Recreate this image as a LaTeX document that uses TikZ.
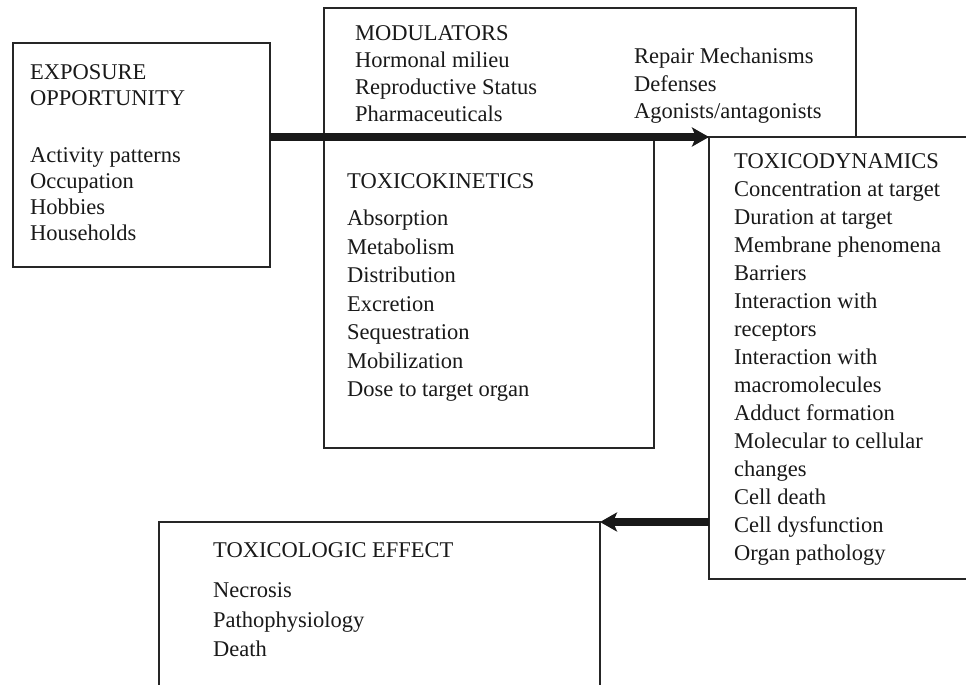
\documentclass[tikz,border=0pt]{standalone}
\usepackage{fontspec}
\setmainfont{Liberation Serif}
\usepackage{tikz}
\usetikzlibrary{arrows.meta}

\begin{document}
\begin{tikzpicture}[x=1pt,y=-1pt,
  >={Stealth[length=17pt,width=19pt,inset=4pt]},
  box/.style={draw=black!85,line width=1.6pt,rectangle,anchor=north west,inner sep=0pt,outer sep=0pt},
  txt/.style={anchor=north west,align=left,inner sep=0pt,text=black!90,font=\fontsize{22.5}{26}\selectfont},
  flow/.style={->,line width=8.5pt,draw=black!90}]
  \useasboundingbox (0,0) rectangle (966,685);
  \clip (0,0) rectangle (966,685);

  % boxes
  \node [box,minimum width=257pt,minimum height=224pt] (expo) at (13,43) {};
  \node [box,minimum width=532pt,minimum height=129pt] (mod) at (324,8) {};
  \node [box,minimum width=330pt,minimum height=311pt] (kin) at (324,137) {};
  \node [box,minimum width=290pt,minimum height=442pt] (dyn) at (709,137) {};
  \node [box,minimum width=441pt,minimum height=200pt] (eff) at (159,522) {};

  % texts
  \node [txt] (expo-t) at (30,64.5)
    {EXPOSURE\\OPPORTUNITY\\[31pt]Activity patterns\\Occupation\\Hobbies\\Households};
  \node [txt,font=\fontsize{22.5}{27}\selectfont] (mod-l) at (355,25.5)
    {MODULATORS\\Hormonal milieu\\Reproductive Status\\Pharmaceuticals};
  \node [txt,font=\fontsize{22.5}{27.5}\selectfont] (mod-r) at (634,48)
    {Repair Mechanisms\\Defenses\\Agonists/antagonists};
  \node [txt,font=\fontsize{22.5}{28.5}\selectfont] (kin-t) at (347,173.5)
    {TOXICOKINETICS\\[8.5pt]Absorption\\Metabolism\\Distribution\\Excretion\\Sequestration\\Mobilization\\Dose to target organ};
  \node [txt,font=\fontsize{22.5}{28}\selectfont] (dyn-t) at (734,153.5)
    {TOXICODYNAMICS\\Concentration at target\\Duration at target\\Membrane phenomena\\Barriers\\Interaction with\\receptors\\Interaction with\\macromolecules\\Adduct formation\\Molecular to cellular\\changes\\Cell death\\Cell dysfunction\\Organ pathology};
  \node [txt,font=\fontsize{22.5}{29.5}\selectfont] (eff-t) at (213,542.5)
    {TOXICOLOGIC EFFECT\\[10.5pt]Necrosis\\Pathophysiology\\Death};

  % arrows
  \draw [flow] (expo.east |- dyn.north west) -- (dyn.north west);
  \draw [flow] (dyn.west |- eff.north east) -- (eff.north east);
\end{tikzpicture}
\end{document}
